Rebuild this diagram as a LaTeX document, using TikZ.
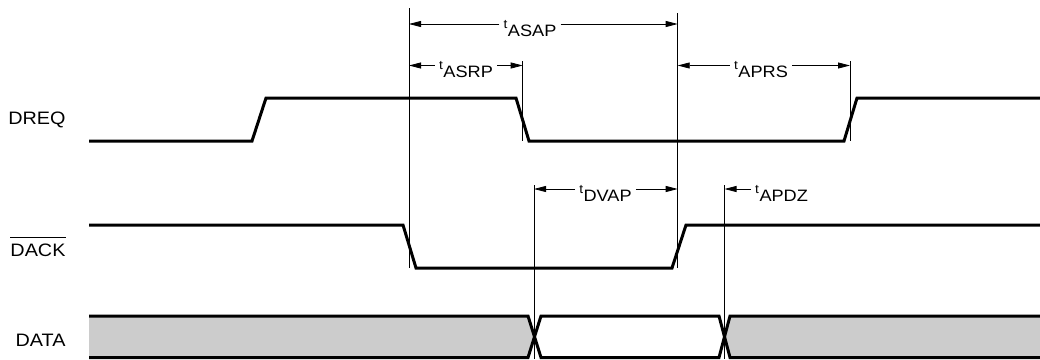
\documentclass[tikz,border=0pt]{standalone}
\usepackage{fontspec}
\setmainfont{Liberation Sans}[FakeStretch=1.1]
\usetikzlibrary{arrows.meta}
\definecolor{datagray}{RGB}{204,204,204}
\tikzset{
  signal/.style = {line width=3pt, line join=miter},
  guide/.style = {line width=0.8pt},
  dim/.style = {line width=0.8pt, -{Triangle[length=12pt,width=6pt]}},
  siglabel/.style = {anchor=base east, inner sep=0pt, font=\fontsize{18}{18}\selectfont},
  tlabel/.style = {anchor=base, inner xsep=4pt, inner ysep=0pt, font=\fontsize{16.5}{16.5}\selectfont}
}
\newcommand{\tsub}[1]{\raisebox{8pt}{\fontsize{12.5}{12.5}\selectfont t}\kern0.5pt#1}

\begin{document}
\begin{tikzpicture}[x=1pt, y=-1pt]
  \useasboundingbox (0,0) rectangle (1040,359);

  % signal names
  \node[siglabel] (dreq) at (65.7,124.5) {DREQ};
  \node[siglabel] (dack) at (65.7,256) {DACK};
  \node[siglabel] (data) at (65.7,346) {DATA};
  \draw[guide] ([yshift=5.5pt]dack.north west) -- ([yshift=5.5pt]dack.north east);

  % DREQ
  \draw[signal] (89,141) -- (252,141) -- (266,98) -- (516,98) -- (529,141) -- (844,141) -- (857,98) -- (1040,98);
  % DACK
  \draw[signal] (89,225) -- (403,225) -- (416,268) -- (672,268) -- (686,225) -- (1040,225);
  % DATA, gray where not valid
  \fill[datagray] (89,316) -- (528,316) -- (534.5,337) -- (528,357.5) -- (89,357.5) -- cycle;
  \fill[datagray] (730,316) -- (1040,316) -- (1040,357.5) -- (730,357.5) -- (724.5,337) -- cycle;
  \draw[signal] (89,316) -- (528,316) -- (541,357.5) -- (719,357.5) -- (730,316) -- (1040,316);
  \draw[signal] (89,357.5) -- (528,357.5) -- (541,316) -- (719,316) -- (730,357.5) -- (1040,357.5);

  % reference lines
  \foreach \n/\x/\ya/\yb in {v1/409/8/268, v2/677.7/13/268, v3/522.7/61/141,
                             v4/850/61/141, v5/534/185/359, v6/724.5/185/359} {
    \coordinate (\n t) at (\x,\ya);
    \coordinate (\n b) at (\x,\yb);
    \draw[guide] (\n t) -- (\n b);
  }

  % arrow rows
  \coordinate (r1) at (0,24);
  \coordinate (r2) at (0,65.5);
  \coordinate (r3) at (0,189);

  % timing parameters
  \node[tlabel] (asap) at (530,36) {\tsub{ASAP}};
  \draw[dim] (asap.west |- r1) -- (v1t |- r1);
  \draw[dim] (asap.east |- r1) -- (v2t |- r1);

  \node[tlabel] (asrp) at (466,77.5) {\tsub{ASRP}};
  \draw[dim] (asrp.west |- r2) -- (v1t |- r2);
  \draw[dim] (asrp.east |- r2) -- (v3t |- r2);

  \node[tlabel] (aprs) at (761,77.5) {\tsub{APRS}};
  \draw[dim] (aprs.west |- r2) -- (v2t |- r2);
  \draw[dim] (aprs.east |- r2) -- (v4t |- r2);

  \node[tlabel] (dvap) at (605.5,201) {\tsub{DVAP}};
  \draw[dim] (dvap.west |- r3) -- (v5t |- r3);
  \draw[dim] (dvap.east |- r3) -- (v2t |- r3);

  \node[tlabel, anchor=base west] (apdz) at (751,201) {\tsub{APDZ}};
  \draw[dim] (apdz.west |- r3) -- (v6t |- r3);
\end{tikzpicture}
\end{document}
